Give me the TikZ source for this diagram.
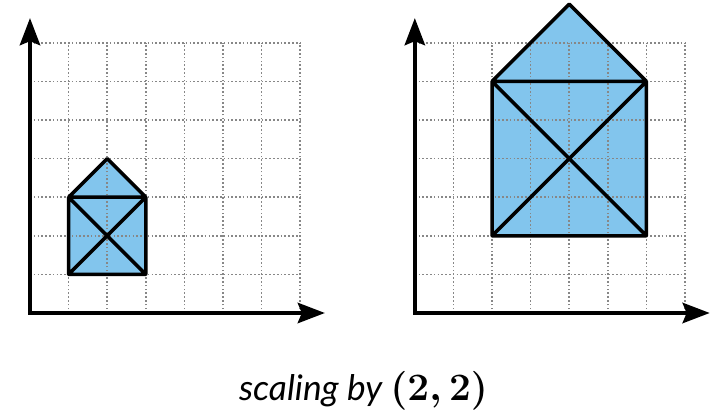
\documentclass[tikz,border=0pt]{standalone}
\usepackage{amsmath}
\usepackage{graphicx}
\usepackage{fontspec}
\setsansfont{Lato}[ItalicFont={Lato Italic}]
\usepackage{tikz}
\usetikzlibrary{arrows.meta,positioning}
\definecolor{housefill}{RGB}{130,197,237}
\definecolor{gridgray}{RGB}{135,135,135}

\begin{document}
\begin{tikzpicture}[>=Stealth,
gridline/.style={gridgray,line width=1.2pt,dash pattern=on 1.2pt off 1.6pt},
house/.style={line width=2.6pt,line join=round,line cap=round},
axis/.style={line width=2.7pt,{Stealth[length=20pt,width=15pt,inset=3pt]}-{Stealth[length=20pt,width=15pt,inset=3pt]}},
caption/.style={font=\sffamily\itshape\fontsize{26}{30}\selectfont,anchor=base}]
\useasboundingbox(-0.777,-2.642) rectangle (17.669,8.109);
% left: the original house
\fill[housefill](1,1)--(3,1)--(3,3)--(2,4)--(1,3)--cycle;
\draw[gridline](0,0) grid (7,7);
\draw[house](1,1) rectangle (3,3)
(1,3)--(2,4)--(3,3)
(1,1)--(3,3)
(1,3)--(3,1);
\draw[axis](0,7.64)--(0,0)--(7.64,0);
% right: scaled by 2
\begin{scope}[shift={(9.97,0)}]
\fill[housefill](2,2)--(6,2)--(6,6)--(4,8)--(2,6)--cycle;
\draw[gridline](0,0) grid (7,7);
\draw[house](2,2) rectangle (6,6)
(2,6)--(4,8)--(6,6)
(2,2)--(6,6)
(2,6)--(6,2);
\draw[axis](0,7.64)--(0,0)--(7.64,0);
\end{scope}
\node[caption] (caption) at (8.64,-2.254) {scaling by \scalebox{1.15}{\boldmath$(2,2)$}};
\end{tikzpicture}
\end{document}
